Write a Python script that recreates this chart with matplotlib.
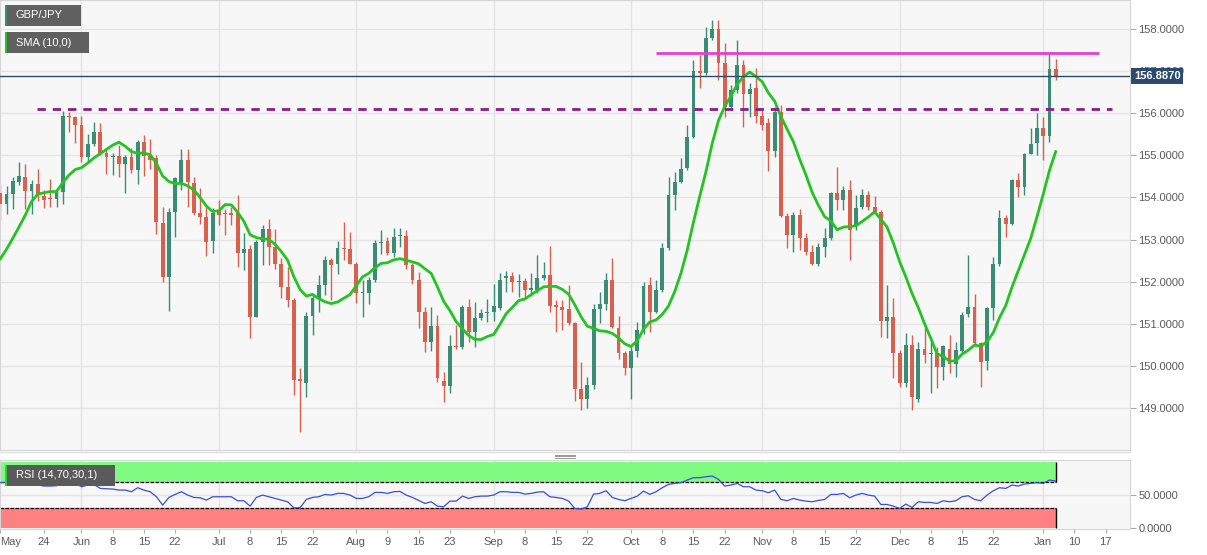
import numpy as np
import pandas as pd
import matplotlib
matplotlib.use("Agg")
import matplotlib.pyplot as plt
from matplotlib.patches import Rectangle
from matplotlib.transforms import blended_transform_factory

plt.rcParams['font.family'] = ['Liberation Sans', 'DejaVu Sans']

# GBP/JPY daily candles, 13 May 2021 - 5 Jan 2022
opens = [154.10, 153.84, 154.07, 154.37, 154.49, 154.16, 154.33, 154.04, 153.97, 153.96,
         154.13, 155.93, 155.90, 155.72, 154.95, 155.26, 155.55, 155.06, 154.97, 154.98,
         154.79, 154.97, 154.64, 155.32, 154.98, 154.93, 153.40, 152.12, 153.66, 154.32,
         154.90, 154.35, 153.64, 153.54, 152.97, 153.70, 153.62, 153.62, 153.62, 152.69,
         152.77, 151.15, 152.95, 153.26, 152.83, 152.43, 151.88, 151.56, 149.68, 149.60,
         151.18, 151.60, 151.92, 152.51, 152.42, 152.81, 152.78, 152.42, 151.74, 151.74,
         152.04, 152.92, 152.96, 152.67, 153.08, 153.08, 152.39, 152.04, 151.29, 150.57,
         150.95, 149.65, 149.53, 150.47, 150.44, 151.40, 150.81, 151.13, 151.25, 151.29,
         151.37, 152.08, 152.13, 151.98, 152.02, 151.79, 151.79, 152.08, 152.16, 151.44,
         151.40, 151.34, 151.01, 149.44, 149.20, 149.54, 151.34, 151.47, 152.05, 150.91,
         150.31, 149.94, 150.36, 150.85, 151.92, 151.29, 151.81, 152.79, 154.06, 154.37,
         154.69, 155.43, 157.00, 156.95, 157.78, 157.99, 157.20, 156.14, 156.55, 157.14,
         156.45, 156.59, 155.93, 155.76, 155.11, 156.04, 153.56, 153.11, 153.58, 153.03,
         152.71, 152.43, 152.83, 153.03, 154.11, 153.94, 154.18, 153.34, 153.78, 154.06,
         153.78, 153.66, 151.07, 151.17, 150.31, 149.60, 150.49, 149.20, 150.41, 150.29,
         150.30, 149.96, 150.39, 150.04, 150.36, 151.23, 151.40, 150.53, 150.12, 151.37,
         152.42, 153.50, 153.38, 154.41, 154.24, 155.03, 155.30, 155.64, 155.46, 157.04]
highs = [154.33, 154.27, 154.49, 154.83, 154.79, 154.41, 154.67, 154.18, 154.44, 154.22,
         156.06, 156.04, 155.93, 155.93, 155.50, 155.80, 155.76, 155.17, 155.05, 155.25,
         155.01, 155.17, 155.36, 155.48, 155.38, 155.00, 153.78, 153.74, 154.49, 155.14,
         155.14, 154.49, 154.22, 153.78, 153.74, 153.95, 153.72, 153.78, 154.06, 153.15,
         152.87, 152.99, 153.34, 153.48, 153.26, 152.55, 152.35, 151.60, 149.94, 151.29,
         151.68, 152.16, 152.61, 152.55, 152.97, 153.42, 153.19, 152.47, 152.04, 152.12,
         152.99, 153.22, 153.07, 153.28, 153.28, 153.22, 152.45, 152.24, 151.40, 151.39,
         151.21, 149.86, 150.73, 150.97, 151.44, 151.58, 151.52, 151.36, 151.58, 151.94,
         152.20, 152.26, 152.24, 152.18, 152.08, 152.20, 152.63, 152.47, 152.85, 151.56,
         151.56, 151.92, 151.03, 150.10, 149.74, 151.47, 151.76, 152.20, 152.55, 151.18,
         150.36, 150.49, 151.05, 152.00, 152.12, 152.04, 152.91, 154.49, 154.61, 154.93,
         155.72, 157.26, 157.38, 158.05, 158.21, 158.21, 157.66, 156.67, 157.75, 157.26,
         156.71, 157.07, 156.08, 155.88, 156.15, 156.19, 153.62, 153.66, 153.72, 153.15,
         152.87, 152.91, 153.27, 154.14, 154.73, 154.27, 154.41, 154.06, 154.21, 154.15,
         154.04, 153.70, 151.92, 151.60, 150.37, 150.77, 150.73, 150.57, 150.93, 150.57,
         150.45, 150.49, 150.73, 150.57, 151.29, 152.63, 151.70, 150.57, 151.40, 152.59,
         153.70, 153.58, 154.43, 154.57, 155.05, 155.66, 156.01, 155.92, 157.40, 157.30]
lows = [153.46, 153.61, 153.72, 154.30, 153.72, 153.61, 153.92, 153.74, 153.77, 153.77,
        153.84, 155.56, 155.29, 154.83, 154.83, 155.21, 155.01, 154.56, 154.53, 154.48,
        154.11, 154.59, 154.32, 154.51, 154.67, 153.13, 152.00, 151.30, 153.07, 154.18,
        153.78, 153.58, 153.37, 152.62, 152.67, 153.34, 153.11, 153.34, 152.35, 152.27,
        150.65, 151.15, 152.39, 152.39, 152.31, 151.60, 151.40, 149.31, 148.42, 149.27,
        150.73, 151.29, 151.68, 151.56, 152.18, 152.51, 152.43, 151.50, 151.17, 151.48,
        152.00, 152.66, 152.63, 152.59, 152.83, 152.31, 151.94, 150.89, 150.33, 150.36,
        149.62, 149.15, 149.36, 150.40, 150.40, 150.57, 150.44, 151.09, 151.05, 151.07,
        151.33, 151.76, 151.76, 151.64, 151.58, 151.66, 151.72, 152.04, 151.29, 150.81,
        150.85, 150.97, 149.17, 148.95, 148.99, 149.46, 151.01, 151.33, 150.89, 150.15,
        149.78, 149.20, 150.22, 150.75, 150.81, 151.25, 151.76, 152.75, 153.70, 154.35,
        154.65, 155.40, 156.61, 156.91, 157.74, 156.79, 155.92, 156.08, 156.47, 155.68,
        155.92, 155.76, 155.60, 154.63, 154.95, 153.54, 152.79, 152.71, 152.75, 152.63,
        152.39, 152.37, 152.59, 152.99, 153.70, 153.70, 152.51, 153.23, 153.72, 153.70,
        153.62, 150.69, 150.65, 149.70, 149.50, 149.50, 148.95, 149.15, 150.06, 149.35,
        149.47, 149.66, 149.82, 149.74, 150.30, 151.17, 150.47, 149.50, 149.90, 151.09,
        152.36, 153.07, 153.34, 154.02, 154.06, 155.03, 155.00, 154.89, 155.32, 156.80]
closes = [153.84, 154.07, 154.40, 154.52, 154.16, 154.32, 154.06, 153.95, 153.96, 154.11,
          155.93, 155.90, 155.72, 154.95, 155.26, 155.55, 155.06, 154.97, 154.98, 154.79,
          154.97, 154.64, 155.32, 154.98, 154.90, 153.42, 152.12, 153.66, 154.45, 154.90,
          154.37, 153.64, 153.54, 152.93, 153.64, 153.58, 153.60, 153.58, 152.69, 152.77,
          151.17, 152.95, 153.24, 152.83, 152.43, 151.88, 151.56, 149.66, 149.65, 151.18,
          151.60, 151.92, 152.51, 152.39, 152.81, 152.78, 152.43, 151.74, 151.76, 152.04,
          152.92, 152.95, 152.67, 153.07, 153.10, 152.39, 152.04, 151.29, 150.57, 150.95,
          149.70, 149.53, 150.47, 150.44, 151.40, 150.81, 151.13, 151.25, 151.29, 151.42,
          152.05, 152.13, 151.98, 152.02, 151.79, 151.84, 152.08, 152.16, 151.42, 151.39,
          151.33, 151.01, 149.44, 149.20, 149.54, 151.34, 151.47, 152.05, 150.93, 150.31,
          149.94, 150.36, 150.85, 151.89, 151.29, 151.80, 152.79, 154.06, 154.37, 154.67,
          155.43, 157.00, 156.95, 157.78, 157.99, 157.20, 156.16, 156.55, 157.14, 156.45,
          156.57, 155.93, 155.72, 155.11, 156.04, 153.56, 153.11, 153.58, 153.03, 152.71,
          152.43, 152.83, 153.03, 154.11, 153.94, 154.18, 153.23, 153.76, 154.06, 153.78,
          153.66, 151.07, 151.17, 150.31, 149.60, 150.49, 149.27, 150.41, 150.26, 150.30,
          149.96, 150.47, 150.04, 150.37, 151.21, 151.40, 150.53, 150.10, 151.37, 152.42,
          153.50, 153.38, 154.41, 154.24, 155.03, 155.28, 155.64, 155.46, 157.04, 156.887]

# RSI(14) line
rsi = [68.5, 69, 69, 70, 68, 66.5, 65, 63.5, 63.5, 64,
       71, 71, 68, 62.5, 65, 66, 60, 59.5, 59, 57.5,
       57.5, 55, 61, 57.5, 55, 47.5, 35, 46.5, 51, 55,
       50, 46.5, 46, 42.5, 47.5, 47.5, 47.5, 47.5, 41.5, 41.5,
       33.5, 46.5, 50, 47.5, 45, 42.5, 40, 31, 31, 43.5,
       46.5, 47.5, 51, 50, 52.5, 52.5, 50, 45, 45, 47.5,
       54, 54, 52.5, 55, 55.5, 50, 46.5, 42, 37.5, 40,
       33.5, 32.5, 41, 41, 48.5, 45, 47.5, 48.5, 48.5, 50,
       55, 55, 54, 54, 51.5, 52.5, 54.5, 55, 47.5, 46.5,
       45, 41, 30, 29, 32.5, 51.5, 52.5, 56.5, 46.5, 43.5,
       41.5, 45, 48.5, 56, 51, 55, 61, 66, 67.5, 68.5,
       72.5, 76, 76, 77.5, 78.5, 73.5, 63.5, 65, 67.5, 62.5,
       62.5, 57.5, 56.5, 53.5, 57.5, 43.5, 41.5, 45, 42.5, 41,
       40, 42, 43.5, 51, 51, 52.5, 46, 50, 52.5, 50,
       48.5, 36, 36, 33.5, 30, 36.5, 31.5, 40, 39, 39,
       37.5, 41.5, 40, 41.5, 47.5, 49, 43.5, 41.5, 50, 56.5,
       61, 60, 65, 63.5, 66.5, 67.5, 68.5, 67.5, 72.5, 71]

# SMA(10) values before ten closes are available
sma_lead = [152.54, 152.77, 153.03, 153.30, 153.58, 153.90, 154.08, 154.11, 154.14]

resistance = 157.42
support = 156.09
last_price = 156.887

tick_dates = ["2021-05-24", "2021-06-01", "2021-06-08", "2021-06-15", "2021-06-22",
              "2021-07-01", "2021-07-08", "2021-07-15", "2021-07-22",
              "2021-08-02", "2021-08-09", "2021-08-16", "2021-08-23",
              "2021-09-01", "2021-09-08", "2021-09-15", "2021-09-22",
              "2021-10-01", "2021-10-08", "2021-10-15", "2021-10-22",
              "2021-11-01", "2021-11-08", "2021-11-15", "2021-11-22",
              "2021-12-01", "2021-12-08", "2021-12-15", "2021-12-22",
              "2022-01-03", "2022-01-10", "2022-01-17"]
tick_labels = ["24", "Jun", "8", "15", "22", "Jul", "8", "15", "22",
               "Aug", "9", "16", "23", "Sep", "8", "15", "22",
               "Oct", "8", "15", "22", "Nov", "8", "15", "22",
               "Dec", "8", "15", "22", "Jan", "10", "17"]
month_labels = {"Jun", "Jul", "Aug", "Sep", "Oct", "Nov", "Dec", "Jan"}

# business-day index (the chart has no weekend gaps)
days = pd.bdate_range("2021-05-13", "2022-01-31")
day_pos = {d.strftime("%Y-%m-%d"): k for k, d in enumerate(days)}
tick_pos = [day_pos[d] for d in tick_dates]

n = len(closes)
x = np.arange(n)
o = np.array(opens); h = np.array(highs); l = np.array(lows); c = np.array(closes)
sma = pd.Series(closes).rolling(10).mean().to_numpy()
sma[:9] = sma_lead

W, H = 1207, 555
GREEN = '#3a8c74'
RED = '#d9604c'
BG = '#f7f7f7'
GRID = '#e4e4e4'
TXT = '#5a5a5a'

fig = plt.figure(figsize=(W / 100, H / 100), dpi=100)
fig.patch.set_facecolor('white')

ax = fig.add_axes([0, 1 - 450 / H, 1130 / W, 450 / H])
ax2 = fig.add_axes([0, 1 - 529 / H, 1130 / W, 69 / H])
for a in (ax, ax2):
    a.set_facecolor(BG)
    for s in a.spines.values():
        s.set_color('#d6d6d6')
    a.set_xlim(-0.05, 180.9)

# grid
for p, lab in zip(tick_pos, tick_labels):
    if lab in month_labels:
        ax.axvline(p, color=GRID, lw=1, zorder=0)
        ax2.axvline(p, color=GRID, lw=1, zorder=0)

# candles
cols = np.where(c >= o, GREEN, RED)
ax.vlines(x, l, h, colors=cols, lw=1, zorder=2)
body = np.maximum(np.abs(c - o), 0.025)
ax.bar(x, body, bottom=np.minimum(o, c), width=0.62, color=cols, zorder=3)

ax.plot(x, sma, color='#22c322', lw=2, zorder=4)

ax.hlines(resistance, 105, 176, color='#e43fd3', lw=2, zorder=5)
ax.hlines(support, 5.9, 178, color='#8b1c8b', lw=2, linestyles=(0, (3, 2.5)), zorder=5)
ax.axhline(last_price, color='#2b4a6e', lw=1, zorder=5)

ax.set_ylim(148.0, 158.69)
ax.set_yticks(np.arange(149, 159))
ax.set_yticklabels([f"{v:.4f}" for v in np.arange(149, 159)])
ax.yaxis.tick_right()
ax.tick_params(axis='y', length=4, color='#aaaaaa', labelcolor=TXT, labelsize=8, pad=2)
ax.tick_params(axis='x', bottom=False, labelbottom=False)
ax.grid(axis='y', color=GRID, lw=1)
ax.set_axisbelow(True)

trans = blended_transform_factory(ax.transAxes, ax.transData)
ax.text(1.0035, last_price, f"{last_price:.4f}", transform=trans, color='white',
        fontsize=8, fontweight='bold', va='center', ha='left', zorder=10,
        bbox=dict(boxstyle='square,pad=0.25', fc='#2b4a6e', ec='none'))

# RSI panel
ax2.set_ylim(-0.75, 102.5)
xr = [-0.05, n - 1 + 0.1]
ax2.fill_between(xr, 70, 100, color='#80fa80', lw=0, zorder=1)
ax2.fill_between(xr, 0, 30, color='#ff8080', lw=0, zorder=1)
ax2.hlines([70, 30], xr[0], xr[1], color='black', lw=0.9, linestyles=(0, (3, 1)), zorder=2)
ax2.vlines(xr[1], 70, 100, color='black', lw=1, zorder=2)
ax2.vlines(xr[1], 0, 30, color='black', lw=1, zorder=2)
ax2.axhline(50, color=GRID, lw=1, zorder=0)
ax2.plot(x, rsi, color='#3a4fd6', lw=0.9, zorder=3)

ax2.yaxis.tick_right()
ax2.set_yticks([0, 50])
ax2.set_yticklabels(["0.0000", "50.0000"])
ax2.tick_params(axis='y', length=4, color='#aaaaaa', labelcolor=TXT, labelsize=8, pad=2)

ax2.set_xticks([-0.05] + tick_pos)
ax2.set_xticklabels(["May"] + tick_labels)
ax2.tick_params(axis='x', length=3, color='#aaaaaa', labelcolor=TXT, labelsize=8, pad=3)
ax2.get_xticklabels()[0].set_horizontalalignment('left')


# label boxes in pixel coordinates
def box(x0, y0, w, hgt, color):
    fig.add_artist(Rectangle((x0 / W, 1 - (y0 + hgt) / H), w / W, hgt / H,
                             transform=fig.transFigure, color=color, lw=0, zorder=20))


def label(x0, y0, s):
    fig.text(x0 / W, 1 - y0 / H, s, color='white', fontsize=8, va='center',
             ha='left', zorder=21)


box(5, 5, 76, 21, '#606060'); box(5, 5, 2, 21, GREEN); label(16, 15.5, "GBP/JPY")
box(5, 32, 84, 21, '#606060'); box(5, 32, 2, 21, '#22c322'); label(16, 42.5, "SMA (10,0)")
box(5, 465, 110, 21, '#5a5a5a'); box(5, 465, 2, 21, '#33cc33'); label(16, 475.5, "RSI (14,70,30,1)")

# splitter between the panels
fig.add_artist(plt.Line2D([0, 1130 / W], [1 - 452 / H] * 2, color='#dddddd', lw=1))
for yy in (454.5, 456.0, 457.5):
    fig.add_artist(plt.Line2D([555 / W, 575 / W], [1 - yy / H] * 2, color='#888888', lw=0.6))

fig.savefig("out.png", dpi=100, facecolor='white')
